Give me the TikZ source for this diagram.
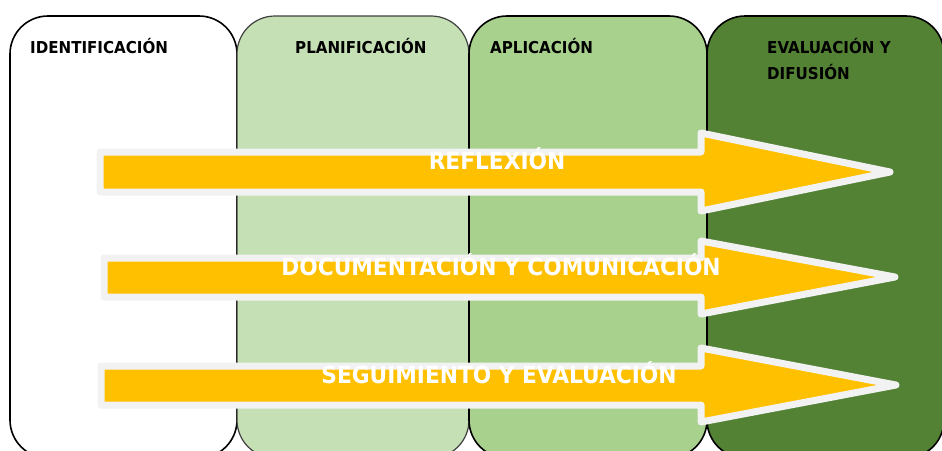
\documentclass[tikz,border=0pt]{standalone}
\usepackage{fontspec}
\setmainfont{DejaVu Sans}[FakeStretch=0.92]
\usepackage{xcolor}
\usepackage{tikz}
\definecolor{plan}{HTML}{C5E0B4}
\definecolor{apli}{HTML}{A9D18E}
\definecolor{evalu}{HTML}{548235}
\definecolor{gold}{HTML}{FFC000}
\definecolor{rim}{HTML}{F2F2F2}
\tikzset{
  col/.style={draw=black, line width=1.6pt, rounded corners=38pt},
  head/.style={font=\bfseries\fontsize{16.4}{26}\selectfont, anchor=base west, align=left, inner sep=0pt},
  band/.style={fill=gold, draw=rim, line width=7pt, line join=round},
  bandlab/.style={text=white, font=\bfseries\fontsize{23.6}{26}\selectfont, anchor=base, inner sep=0pt},
}

\begin{document}
\begin{tikzpicture}[x=1pt, y=-1pt]
  \useasboundingbox (0,0) rectangle (942,450);
  \clip (0,0) rectangle (942,450);

  % the four phases (cut off at the bottom)
  \draw[col, fill=white] (10,16) rectangle (237,458);
  \draw[col, draw=black!75, line width=1.2pt, fill=plan] (237,16) rectangle (469,458);
  \draw[col, fill=apli] (469,16) rectangle (707,458);
  \draw[col, fill=evalu] (707,16) rectangle (944,458);

  \node[head] (ident) at (30,53) {IDENTIFICACIÓN};
  \node[head] (planif) at (295,53) {PLANIFICACIÓN};
  \node[head] (aplic) at (490,53) {APLICACIÓN};
  \node[head] (evdif) at (767,79) {EVALUACIÓN Y\\DIFUSIÓN};

  % three transversal arrows
  \draw[band] (100,152) -- (701,152) -- (701,133) -- (890,172) -- (701,211) -- (701,192) -- (100,192) -- cycle;
  \draw[band] (104,258) -- (701,258) -- (701,241) -- (895,277) -- (701,314) -- (701,297) -- (104,297) -- cycle;
  \draw[band] (101,366) -- (701,366) -- (701,348) -- (896,385) -- (701,422) -- (701,405) -- (101,405) -- cycle;

  \node[bandlab] (reflex) at (497,169) {REFLEXIÓN};
  \node[bandlab] (docum) at (501,275) {DOCUMENTACIÓN Y COMUNICACIÓN};
  \node[bandlab] (segui) at (499,383) {SEGUIMIENTO Y EVALUACIÓN};
\end{tikzpicture}
\end{document}
